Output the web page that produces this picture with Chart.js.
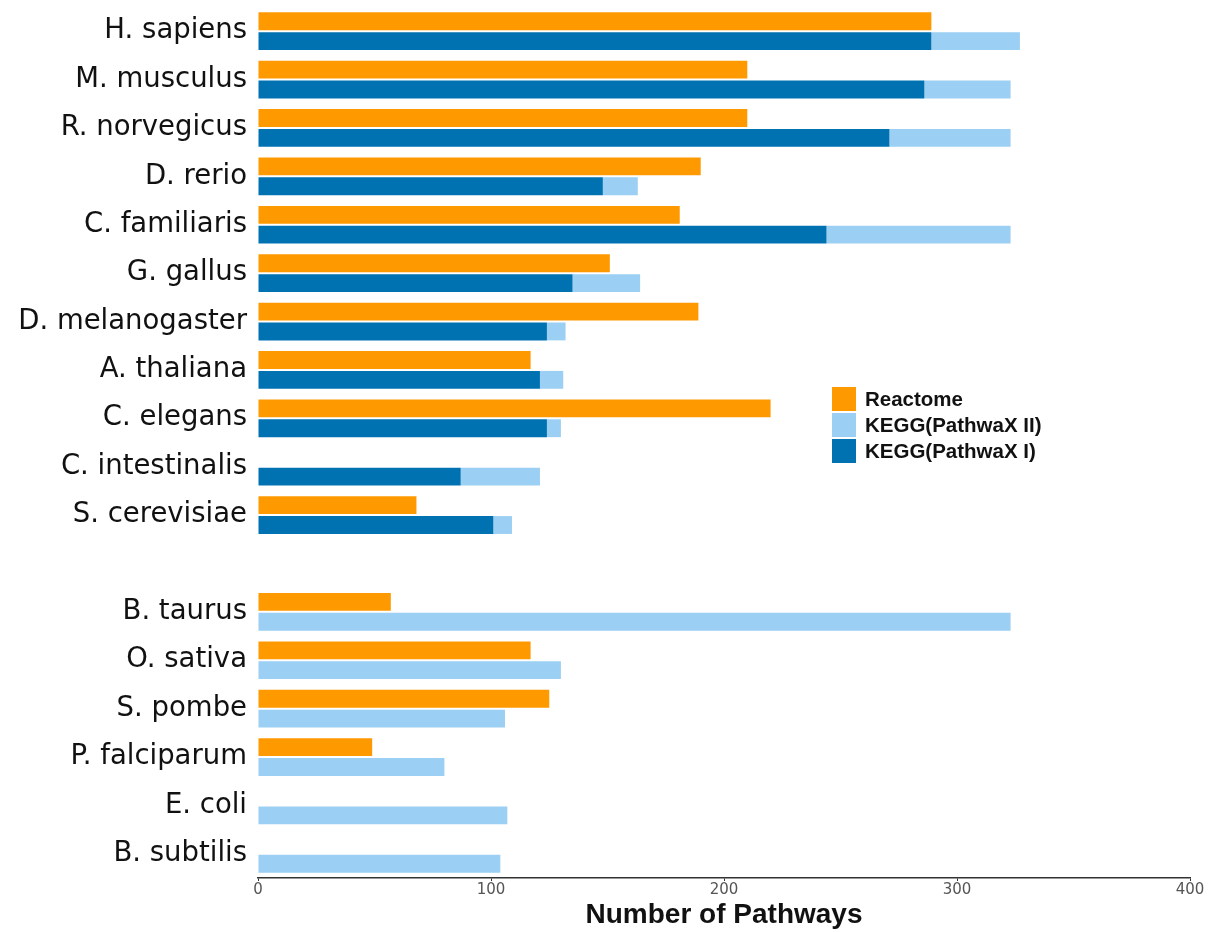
<!DOCTYPE html>
<html lang="en">
<head>
    <meta charset="UTF-8">
    <title>Number of Pathways</title>
    <script src="https://cdn.jsdelivr.net/npm/chart.js"></script>
    <style>
        body {
            margin: 0;
            background: #fff;
        }
        .wrap {
            position: relative;
            width: 1216px;
            height: 932px;
        }
        .legend {
            position: absolute;
            left: 832px;
            top: 386px;
            font-family: "Liberation Sans", Arial, sans-serif;
            font-weight: bold;
            font-size: 20.5px;
            color: #111;
        }
        .legend div {
            display: flex;
            align-items: center;
            height: 26px;
        }
        .legend span.box {
            width: 24px;
            height: 24px;
            margin-right: 9px;
        }
    </style>
</head>
<body>
    <div class="wrap">
        <canvas id="chart" width="1216" height="932"></canvas>
        <!-- legend sits inside the plot, on the right -->
        <div class="legend">
            <div><span class="box" style="background:#ff9900"></span>Reactome</div>
            <div><span class="box" style="background:#9bcff3"></span>KEGG(PathwaX II)</div>
            <div><span class="box" style="background:#0072b2"></span>KEGG(PathwaX I)</div>
        </div>
    </div>

    <script>
        // species (empty label = gap between the two groups)
        var species = ['H. sapiens', 'M. musculus', 'R. norvegicus', 'D. rerio', 'C. familiaris',
            'G. gallus', 'D. melanogaster', 'A. thaliana', 'C. elegans', 'C. intestinalis',
            'S. cerevisiae', '', 'B. taurus', 'O. sativa', 'S. pombe', 'P. falciparum',
            'E. coli', 'B. subtilis'];
        var reactome = [289, 210, 210, 190, 181, 151, 189, 117, 220, null, 68, null, 57, 117, 125, 49, null, null];
        var keggII = [327, 323, 323, 163, 323, 164, 132, 131, 130, 121, 109, null, 323, 130, 106, 80, 107, 104];
        var keggI = [289, 286, 271, 148, 244, 135, 124, 121, 124, 87, 101, null, null, null, null, null, null, null];
        var xTicks = [0, 100, 200, 300, 400];

        // light bar is drawn on from the end of the dark one
        var keggRest = keggII.map(function(v, i) {
            if (v === null) return null;
            return v - (keggI[i] || 0);
        });

        var ctx = document.getElementById('chart').getContext('2d');
        var chart = new Chart(ctx, {
            type: 'bar',
            data: {
                labels: species,
                datasets: [{
                    label: 'Reactome',
                    data: reactome,
                    backgroundColor: '#ff9900',
                    stack: 'r'
                }, {
                    label: 'KEGG(PathwaX I)',
                    data: keggI,
                    backgroundColor: '#0072b2',
                    stack: 'k'
                }, {
                    label: 'KEGG(PathwaX II)',
                    data: keggRest,
                    backgroundColor: '#9bcff3',
                    stack: 'k'
                }]
            },
            options: {
                indexAxis: 'y',
                responsive: false,
                animation: false,
                layout: {
                    padding: { top: 7, right: 26, left: 0, bottom: 0 }
                },
                datasets: {
                    bar: {
                        categoryPercentage: 0.82,
                        barPercentage: 0.9
                    }
                },
                plugins: {
                    legend: { display: false },
                    tooltip: { enabled: false }
                },
                scales: {
                    x: {
                        stacked: true,
                        min: 0,
                        max: 400,
                        afterBuildTicks: function(scale) {
                            scale.ticks = xTicks.map(function(v) { return { value: v }; });
                        },
                        afterFit: function(scale) {
                            scale.height = 54;
                            scale.paddingLeft = 0;
                            scale.paddingRight = 0;
                        },
                        grid: {
                            drawOnChartArea: false,
                            drawTicks: true,
                            tickLength: 3,
                            color: '#333'
                        },
                        border: {
                            display: true,
                            color: '#333',
                            width: 1.5
                        },
                        ticks: {
                            color: '#555',
                            padding: 0,
                            font: { family: 'DejaVu Sans', size: 15 }
                        },
                        title: {
                            display: true,
                            text: 'Number of Pathways',
                            color: '#111',
                            padding: { top: 3, bottom: 0 },
                            font: { family: 'Liberation Sans', size: 28, weight: 'bold' }
                        }
                    },
                    y: {
                        stacked: true,
                        afterFit: function(scale) {
                            scale.width = 258;
                            // keep the top row near the canvas edge
                            scale.paddingTop = 0;
                            scale.paddingBottom = 0;
                        },
                        grid: { display: false, drawTicks: false },
                        border: { display: false },
                        ticks: {
                            color: '#111',
                            padding: 11,
                            font: { family: 'DejaVu Sans', size: 27.5 }
                        }
                    }
                }
            }
        });
    </script>
</body>
</html>
